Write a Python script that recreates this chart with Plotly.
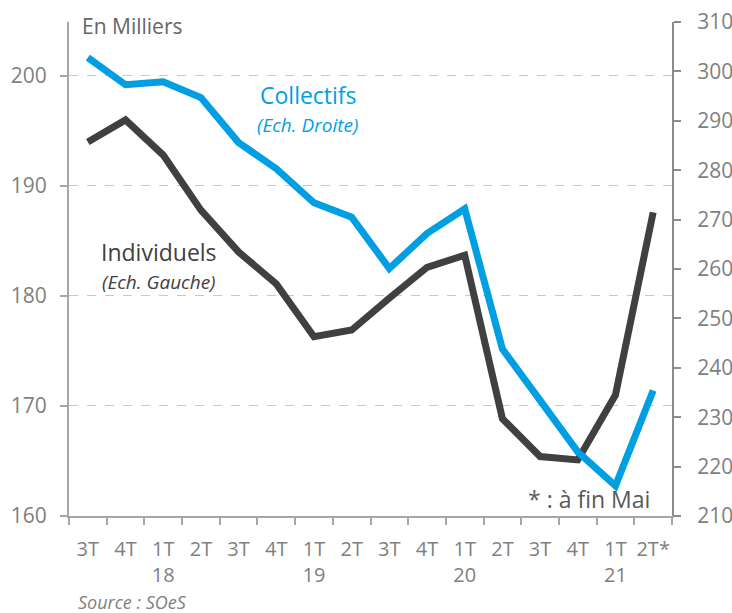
import plotly.graph_objects as go

quarters = ["3T", "4T", "1T", "2T", "3T", "4T", "1T", "2T", "3T", "4T", "1T", "2T", "3T", "4T", "1T", "2T*"]
years = ["", "", "18", "", "", "", "19", "", "", "", "20", "", "", "", "21", ""]
individuels = [194.0, 196.0, 192.8, 187.8, 184.0, 181.1, 176.3, 176.9, 179.8, 182.6, 183.7, 168.85, 165.4, 165.1, 171.0, 187.6]
collectifs = [302.8, 297.3, 297.9, 294.7, 285.6, 280.3, 273.4, 270.5, 260.1, 267.2, 272.2, 243.8, 233.4, 223.0, 216.1, 235.4]
left_ticks = [160, 170, 180, 190, 200]
right_ticks = [210, 220, 230, 240, 250, 260, 270, 280, 290, 300, 310]

x = list(range(len(quarters)))
ticktext = [q if not y else f"{q}<br>{y}" for q, y in zip(quarters, years)]

FONT = "Open Sans"
GREY = "#7f7f7f"
BLUE = "#009fe3"
DARK = "#404040"

L, R, T, B = 69, 60, 22, 97
W, H = 732, 613

fig = go.Figure()
fig.add_trace(go.Scatter(x=x, y=individuels, mode="lines", name="Individuels",
                         line=dict(color=DARK, width=7), yaxis="y"))
fig.add_trace(go.Scatter(x=x, y=collectifs, mode="lines", name="Collectifs",
                         line=dict(color=BLUE, width=7), yaxis="y2"))

fig.update_layout(
    width=W, height=H,
    margin=dict(l=L, r=R, t=T, b=B),
    paper_bgcolor="white", plot_bgcolor="white",
    showlegend=False,
    font=dict(family=FONT, color=GREY),
    xaxis=dict(range=[-0.5, 15.5], tickmode="array", tickvals=x, ticktext=ticktext,
               ticks="", showgrid=False, zeroline=False, automargin=False,
               showline=True, linecolor="#a6a6a6", linewidth=2,
               ticklabelstandoff=14,
               tickfont=dict(family=FONT, size=20, color=GREY),
               minor=dict(tickmode="linear", tick0=-0.5, dtick=1, ticks="outside",
                          ticklen=7, tickwidth=2, tickcolor="#a6a6a6", showgrid=False)),
    yaxis=dict(range=[160, 204.9], tickmode="array", tickvals=left_ticks,
               ticks="outside", ticklen=7, tickwidth=2, tickcolor="#a6a6a6",
               showline=True, linecolor="#a6a6a6", linewidth=2,
               showgrid=True, gridcolor="#c8c8c8", griddash="dash", gridwidth=1,
               zeroline=False, ticklabelstandoff=9, automargin=False,
               tickfont=dict(family=FONT, size=21, color=GREY)),
    yaxis2=dict(range=[210, 310], tickmode="array", tickvals=right_ticks,
                overlaying="y", side="right", anchor="x",
                ticks="outside", ticklen=7, tickwidth=2, tickcolor="#8c8c8c",
                showline=True, linecolor="#8c8c8c", linewidth=2,
                showgrid=False, zeroline=False, ticklabelstandoff=12, automargin=False,
                tickfont=dict(family=FONT, size=21, color=GREY)),
)

ann = [
    dict(text="En Milliers", x=80, y=26, xanchor="left", size=21, color="#666666", italic=False),
    dict(text="Collectifs", x=308, y=95, xanchor="center", size=23, color=BLUE, italic=False),
    dict(text="(Ech. Droite)", x=307, y=125, xanchor="center", size=19, color=BLUE, italic=True),
    dict(text="Individuels", x=159, y=252, xanchor="center", size=23, color=DARK, italic=False),
    dict(text="(Ech. Gauche)", x=159, y=282, xanchor="center", size=19, color=DARK, italic=True),
    dict(text="* : à fin Mai", x=652, y=499, xanchor="right", size=23, color="#595959", italic=False),
    dict(text="Source : SOeS", x=76, y=602, xanchor="left", size=18, color="#7f7f7f", italic=True),
]
for a in ann:
    txt = f"<i>{a['text']}</i>" if a["italic"] else a["text"]
    fig.add_annotation(text=txt, xref="paper", yref="paper",
                       x=(a["x"] - L) / (W - L - R),
                       y=(H - B - a["y"]) / (H - T - B),
                       xanchor=a["xanchor"], yanchor="middle", showarrow=False,
                       font=dict(family=FONT, size=a["size"], color=a["color"]))

fig.write_html("out.html", config={"displayModeBar": False},
               post_script="document.body.style.margin='0';")
